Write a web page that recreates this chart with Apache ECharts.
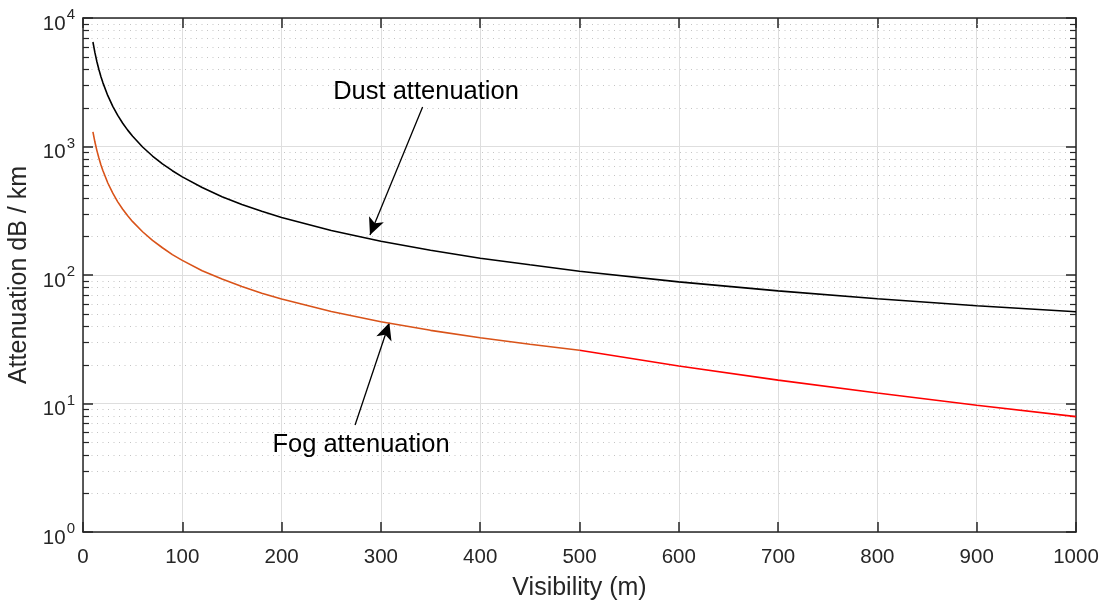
<!DOCTYPE html>
<html>
<head>
<meta charset="utf-8">
<script src="https://cdn.jsdelivr.net/npm/echarts@6/dist/echarts.min.js"></script>
<style>
html,body{margin:0;padding:0;background:#fff;}
#c{width:1104px;height:602px;}
</style>
</head>
<body>
<div id="c"></div>
<script>
// ---- data ----
const visibility = [10,12,14,16,18,20,25,30,35,40,45,50,60,70,80,90,100,120,140,160,180,200,250,300,350,400,450,500,600,700,800,900,1000];
const dustAtt = [6506,5373,4569,3972,3511,3142,2486,2053,1746,1518,1341,1201,991,843,733,648,580,479,407,354,313,280,222,183,156,135,120,107,88.4,75.2,65.3,57.7,51.7];
const fogVisLow = [10,12,14,16,18,20,25,30,35,40,45,50,60,70,80,90,100,120,140,160,180,200,250,300,350,400,450,500];
const fogAttLow = [1300,1083,929,813,722,650,520,433,371,325,289,260,217,186,163,144,130,108,92.9,81.3,72.2,65,52,43.3,37.1,32.5,28.9,26];
const fogVisHigh = [500,600,700,800,900,1000];
const fogAttHigh = [26,19.6,15.2,12.06,9.7,7.9];
const xTickValues = [0,100,200,300,400,500,600,700,800,900,1000];
const minorYValues = [];
[1,10,100,1000].forEach(d => { for (let k = 2; k <= 9; k++) minorYValues.push(k * d); });
const dustLabel = 'Dust attenuation';
const fogLabel = 'Fog attenuation';
const dustArrow = [[342, 2030], [289, 205]];
const fogArrow = [[274, 6.8], [308.5, 42.5]];

const FONT = '"Liberation Sans", Arial, Helvetica, sans-serif';
const AX = '#262626';

const chart = echarts.init(document.getElementById('c'), null, {renderer: 'canvas'});

const supLabel = v => '{b|10}{s|' + Math.round(Math.log10(v)) + '}';

const option = {
  animation: false,
  backgroundColor: '#ffffff',
  grid: {left: 83, top: 18, right: 28, bottom: 70, containLabel: false, outerBoundsMode: 'none'},
  xAxis: [{
    type: 'value', min: 0, max: 1000, interval: 100, position: 'bottom',
    axisLine: {show: true, onZero: false, lineStyle: {color: AX, width: 1.5}},
    axisTick: {show: true, inside: true, length: 10, lineStyle: {color: AX, width: 1.5}},
    axisLabel: {show: true, color: AX, fontSize: 20.5, fontFamily: FONT, margin: 15,
      formatter: v => xTickValues.includes(v) ? String(v) : ''},
    splitLine: {show: true, lineStyle: {color: '#dedede', width: 1}},
    name: 'Visibility (m)', nameLocation: 'middle', nameGap: 44,
    nameTextStyle: {color: AX, fontSize: 25, fontFamily: FONT}
  }, {
    type: 'value', min: 0, max: 1000, interval: 100, position: 'top',
    axisLine: {show: true, onZero: false, lineStyle: {color: AX, width: 1.5}},
    axisTick: {show: true, inside: true, length: 10, lineStyle: {color: AX, width: 1.5}},
    axisLabel: {show: false}, splitLine: {show: false}
  }],
  yAxis: [{
    type: 'log', logBase: 10, min: 1, max: 10000, position: 'left',
    axisLine: {show: true, onZero: false, lineStyle: {color: AX, width: 1.5}},
    axisTick: {show: true, inside: true, length: 10, lineStyle: {color: AX, width: 1.5}},
    axisLabel: {show: true, color: AX, fontFamily: FONT, margin: 8, formatter: supLabel,
      rich: {
        b: {fontSize: 20.5, fontFamily: FONT, color: AX, padding: [12, 0, 0, 0]},
        s: {fontSize: 15, fontFamily: FONT, color: AX, padding: [0, 0, 6, 1]}
      }},
    splitLine: {show: true, lineStyle: {color: '#dedede', width: 1}},
    name: 'Attenuation dB / km', nameLocation: 'middle', nameGap: 49, nameRotate: 90,
    nameTextStyle: {color: AX, fontSize: 25, fontFamily: FONT}
  }, {
    type: 'log', logBase: 10, min: 1, max: 10000, position: 'right',
    axisLine: {show: true, onZero: false, lineStyle: {color: AX, width: 1.5}},
    axisTick: {show: true, inside: true, length: 10, lineStyle: {color: AX, width: 1.5}},
    axisLabel: {show: false}, splitLine: {show: false}
  }],
  series: [
    {
      type: 'custom', name: 'minor', silent: true, z: 1,
      xAxisIndex: 0, yAxisIndex: 0,
      data: minorYValues.map(v => [0, v]),
      encode: {x: 0, y: 1},
      clip: false,
      renderItem: (params, api) => {
        const v = api.value(1);
        const p0 = api.coord([0, v]);
        const p1 = api.coord([1000, v]);
        const y = Math.round(p0[1]) + 0.5;
        return {type: 'group', children: [
          {type: 'line', shape: {x1: p0[0] + 3, y1: y, x2: p1[0] - 3, y2: y},
            style: {stroke: '#c4c4c4', lineWidth: 1, lineDash: [1, 4.5]}},
          {type: 'line', shape: {x1: p0[0], y1: y, x2: p0[0] + 6, y2: y},
            style: {stroke: AX, lineWidth: 1.2}},
          {type: 'line', shape: {x1: p1[0] - 6, y1: y, x2: p1[0], y2: y},
            style: {stroke: AX, lineWidth: 1.2}}
        ]};
      }
    },
    {
      type: 'line', name: 'Dust', z: 5,
      data: visibility.map((x, i) => [x, dustAtt[i]]),
      showSymbol: false, symbol: 'none',
      lineStyle: {color: '#000000', width: 1.6},
      markLine: {
        silent: true, symbol: ['none', 'arrow'], symbolSize: [12, 17],
        label: {show: false},
        lineStyle: {color: '#000000', width: 1.3, type: 'solid'},
        data: [[{coord: dustArrow[0]}, {coord: dustArrow[1]}]]
      }
    },
    {
      type: 'line', name: 'FogLow', z: 5,
      data: fogVisLow.map((x, i) => [x, fogAttLow[i]]),
      showSymbol: false, symbol: 'none',
      lineStyle: {color: '#D95319', width: 1.6},
      markLine: {
        silent: true, symbol: ['none', 'arrow'], symbolSize: [12, 17],
        label: {show: false},
        lineStyle: {color: '#000000', width: 1.3, type: 'solid'},
        data: [[{coord: fogArrow[0]}, {coord: fogArrow[1]}]]
      }
    },
    {
      type: 'line', name: 'FogHigh', z: 5,
      data: fogVisHigh.map((x, i) => [x, fogAttHigh[i]]),
      showSymbol: false, symbol: 'none',
      lineStyle: {color: '#FF0000', width: 1.6}
    }
  ],
  graphic: [
    {type: 'text', x: 426, y: 92, z: 100,
      style: {text: dustLabel, font: '25.5px ' + FONT, fill: '#000000', align: 'center', verticalAlign: 'middle'}},
    {type: 'text', x: 361, y: 445, z: 100,
      style: {text: fogLabel, font: '25.5px ' + FONT, fill: '#000000', align: 'center', verticalAlign: 'middle'}}
  ]
};
chart.setOption(option);
</script>
</body>
</html>
